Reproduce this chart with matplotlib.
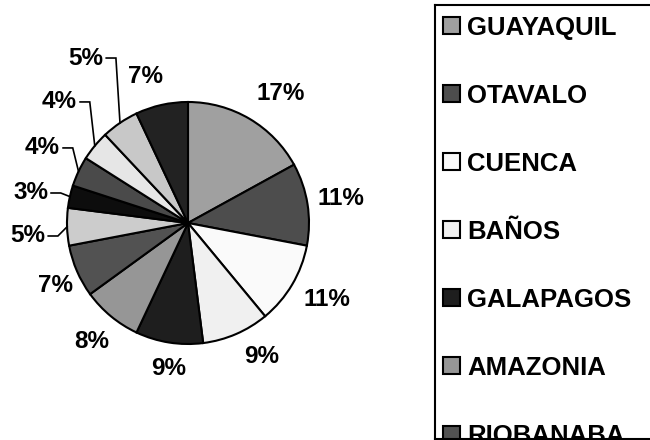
import numpy as np
import matplotlib
matplotlib.use("Agg")
import matplotlib.pyplot as plt
from matplotlib.patches import Rectangle

plt.rcParams['font.family'] = ['Liberation Sans', 'DejaVu Sans']

# share of visitors per destination (%), clockwise from 12 o'clock
shares = [17, 11, 11, 9, 9, 8, 7, 5, 3, 4, 4, 5, 7]
cities = ["GUAYAQUIL", "OTAVALO", "CUENCA", "BAÑOS", "GALAPAGOS", "AMAZONIA", "RIOBANABA"]
colors = ["#a0a0a0", "#4d4d4d", "#fafafa", "#f0f0f0", "#1e1e1e", "#969696", "#525252",
          "#cccccc", "#0d0d0d", "#4a4a4a", "#e6e6e6", "#c8c8c8", "#222222"]

# label placement: radius (in pie radii) and angular nudge (deg) from the wedge middle
label_r = [1.32, 1.28, 1.31, 1.26, 1.21, 1.26, 1.21, 1.185, 1.183, 1.226, 1.357, 1.533, 1.26]
label_nudge = [-5, 0, 1.6, 5.6, 1.5, 0.6, 2, 3.4, 0.5, -5.2, -7.9, -7.0, 3.4]
leader = [False] * 7 + [True] * 5 + [False]

W, H = 650, 440
R = 121.0                 # pie radius in pixels
cx, cy = 188, 223         # pie centre in pixels (from top-left)

fig = plt.figure(figsize=(W / 100, H / 100), dpi=100)
ax = fig.add_axes([0, 0, 1, 1])

wedges, _ = ax.pie(shares, colors=colors, startangle=90, counterclock=False,
                   wedgeprops=dict(edgecolor="black", linewidth=1.5))
ax.set_xlim(-cx / R, (W - cx) / R)
ax.set_ylim(-(H - cy) / R, cy / R)
ax.set_aspect("auto")
ax.axis("off")

for w, v, lr, dn, ld in zip(wedges, shares, label_r, label_nudge, leader):
    mid = np.deg2rad((w.theta1 + w.theta2) / 2)
    ang = mid + np.deg2rad(dn)
    x, y = lr * np.cos(ang), lr * np.sin(ang)
    txt = f"{v}%"
    if ld:
        ax.text(x, y, txt, ha="right", va="center", fontsize=17.5, fontweight="bold")
        ex, ey = np.cos(mid), np.sin(mid)
        x0 = x + 0.025
        ax.plot([x0, x0 + 0.08, ex], [y, y, ey], color="black", lw=1.2,
                solid_joinstyle="miter")
    else:
        ax.text(x, y, txt, ha="center", va="center", fontsize=17.5, fontweight="bold")

# legend box, cut off by the bottom of the chart area
lx0, lx1, ly0, ly1 = 435, 662, 5, 438.5
lax = fig.add_axes([lx0 / W, (H - ly1) / H, (lx1 - lx0) / W, (ly1 - ly0) / H])
lax.set_xlim(lx0, lx1)
lax.set_ylim(ly1, ly0)
lax.set_xticks([])
lax.set_yticks([])
for s in lax.spines.values():
    s.set_linewidth(1.5)
lax.patch.set_alpha(0)

for i, name in enumerate(cities):
    yc = 26 + 68 * i
    lax.add_patch(Rectangle((443.5, yc - 8.5), 17, 17, facecolor=colors[i],
                            edgecolor="black", linewidth=1.5, clip_on=True))
    lax.text(467, yc + 8.7, name, ha="left", va="baseline", fontsize=18.5,
             fontweight="bold", clip_on=True)

fig.savefig("out.png", dpi=100)
